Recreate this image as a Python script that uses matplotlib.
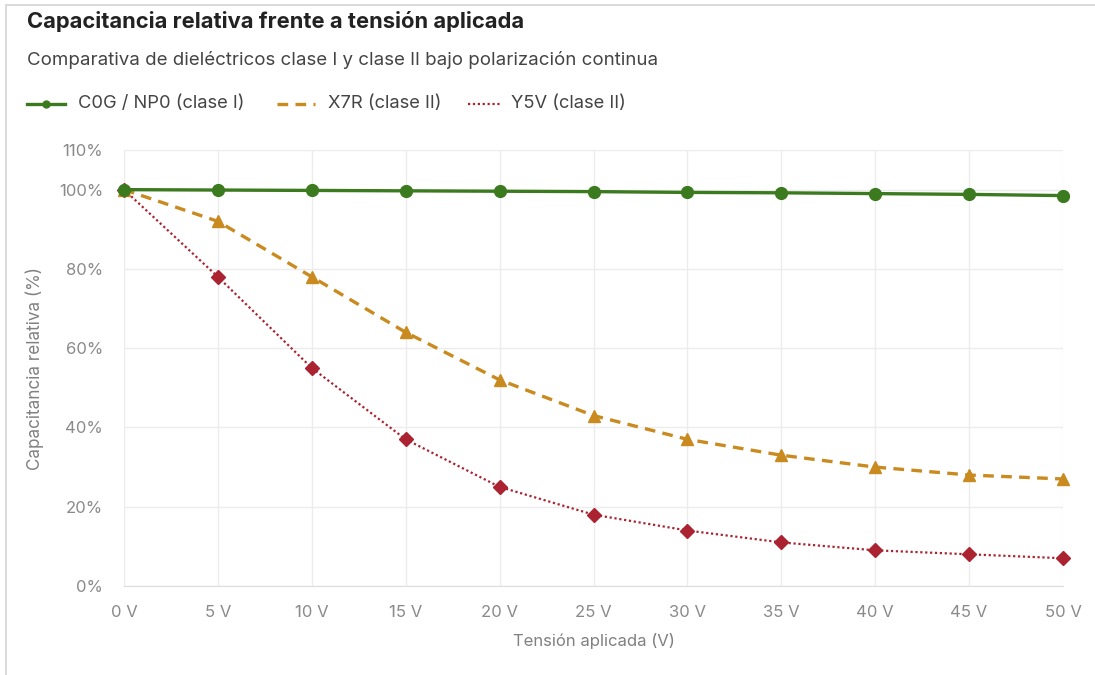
import matplotlib
matplotlib.use("Agg")
import matplotlib.pyplot as plt
from matplotlib.lines import Line2D
from matplotlib.patches import Rectangle

plt.rcParams['font.family'] = ['Inter', 'DejaVu Sans']

# Applied DC bias (V)
voltages = [0, 5, 10, 15, 20, 25, 30, 35, 40, 45, 50]
x_labels = [f"{v} V" for v in voltages]

# Relative capacitance (%) per dielectric
c0g = [100, 99.9, 99.8, 99.7, 99.6, 99.5, 99.3, 99.2, 99.0, 98.8, 98.5]
x7r = [100, 92, 78, 64, 52, 43, 37, 33, 30, 28, 27]
y5v = [100, 78, 55, 37, 25, 18, 14, 11, 9, 8, 7]

y_ticks = [0, 20, 40, 60, 80, 100, 110]

series_names = ["C0G / NP0 (clase I)", "X7R (clase II)", "Y5V (clase II)"]
col_green = "#3b7a1e"
col_orange = "#c98a1f"
col_red = "#ab2330"

styles = [
    dict(color=col_green, linewidth=2.4, linestyle="-"),
    dict(color=col_orange, linewidth=2.4, linestyle=(0, (3.2, 2.2))),
    dict(color=col_red, linewidth=1.6, linestyle=(0, (1, 1.2))),
]
markers = [("o", 8.5), ("^", 9), ("D", 7.5)]

W, H = 1095, 675
fig = plt.figure(figsize=(W / 100, H / 100), dpi=100)
fig.patch.set_facecolor("white")

# card border
fig.add_artist(Rectangle((6 / W, -0.02), 1.2, 1 - 5 / H + 0.02, transform=fig.transFigure,
                         fill=False, edgecolor="#d4d4d4", linewidth=1.2))

ax = fig.add_axes([124 / W, 1 - 586 / H, (1063 - 124) / W, (586 - 150) / H])
ax.set_facecolor("white")

for vals, st, (mk, ms), z in zip([c0g, x7r, y5v], styles, markers, [5, 4, 3]):
    ax.plot(voltages, vals, marker=mk, markersize=ms, zorder=z, clip_on=False, **st)

ax.set_xlim(0, 50)
ax.set_ylim(0, 110)
ax.set_xticks(voltages)
ax.set_xticklabels(x_labels)
ax.set_yticks(y_ticks)
ax.set_yticklabels([f"{t}%" for t in y_ticks])

ax.grid(True, color="#ececec", linewidth=1)
ax.set_axisbelow(True)
for s in ["top", "right", "left"]:
    ax.spines[s].set_visible(False)
ax.spines["bottom"].set_color("#dcdcdc")
ax.tick_params(axis="both", length=0, labelsize=12, labelcolor="#8a8a8a")
ax.tick_params(axis="x", pad=14)
ax.tick_params(axis="y", pad=15)

ax.set_xlabel("Tensión aplicada (V)", fontsize=12, color="#808080", labelpad=9)
ax.set_ylabel("Capacitancia relativa (%)", fontsize=12.3, color="#808080", labelpad=11)

# title block
fig.text(27 / W, 1 - 22 / H, "Capacitancia relativa frente a tensión aplicada",
         fontsize=15.8, fontweight="bold", color="#222222", va="center", ha="left")
fig.text(27 / W, 1 - 60 / H, "Comparativa de dieléctricos clase I y clase II bajo polarización continua",
         fontsize=13.45, color="#444444", va="center", ha="left")

# legend row
leg_y = 1 - 104 / H
handle_spans = [(27, 65), (277, 315), (468, 502)]
text_x = [78, 328, 511]
for (x0, x1), tx, st, name, i in zip(handle_spans, text_x, styles, series_names, range(3)):
    fig.add_artist(Line2D([x0 / W, x1 / W], [leg_y, leg_y], transform=fig.transFigure, **st))
    if i == 0:
        fig.add_artist(Line2D([(x0 + x1) / 2 / W], [leg_y], transform=fig.transFigure,
                              marker="o", markersize=5, color=col_green))
    fig.text(tx / W, leg_y, name, fontsize=13.2, color="#444444", va="center", ha="left")

fig.savefig("out.png", dpi=100, facecolor="white")
